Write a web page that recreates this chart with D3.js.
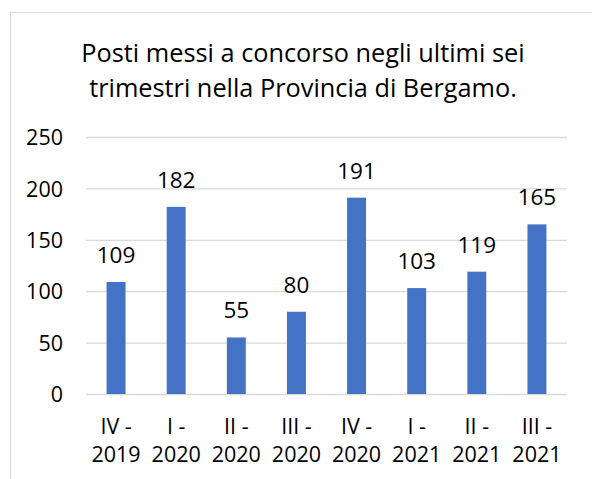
<!DOCTYPE html>
<html>
<head>
<meta charset="utf-8">
<script src="https://cdn.jsdelivr.net/npm/d3@7"></script>
<style>
  body { margin: 0; background: #fff; }
  svg text { font-family: "Open Sans", sans-serif; fill: #000; }
</style>
</head>
<body>
<div id="chart-holder"></div>
<script>
let width = 592;
let height = 479;

// data
let quarters = ["IV", "I", "II", "III", "IV", "I", "II", "III"];
let years = ["2019", "2020", "2020", "2020", "2020", "2021", "2021", "2021"];
let posti = [109, 182, 55, 80, 191, 103, 119, 165];
let yTicks = [0, 50, 100, 150, 200, 250];
let titleLines = ["Posti messi a concorso negli ultimi sei", "trimestri nella Provincia di Bergamo."];

let categories = quarters.map(function(q, i) { return q + " - " + years[i]; });

let plot = { left: 86, right: 567, top: 137, bottom: 394 };

let svg = d3.select("#chart-holder")
  .append("svg")
  .attr("width", width)
  .attr("height", height);

// chart frame (runs off the right and bottom of the picture)
svg.append("rect")
  .attr("x", 10.5)
  .attr("y", 12.5)
  .attr("width", width + 20)
  .attr("height", height + 20)
  .attr("fill", "#fff")
  .attr("stroke", "#d9d9d9")
  .attr("stroke-width", 1);

let x = d3.scaleBand()
  .domain(categories)
  .range([plot.left, plot.right])
  .paddingInner(0.685)
  .paddingOuter(0.3425);

let y = d3.scaleLinear()
  .domain([0, 250])
  .range([plot.bottom, plot.top]);

// title
svg.append("g")
  .attr("class", "title")
  .selectAll("text")
  .data(titleLines)
  .enter().append("text")
    .attr("x", 303)
    .attr("y", function(d, i) { return 62 + i * 35; })
    .attr("text-anchor", "middle")
    .attr("font-size", 25.3)
    .text(function(d) { return d; });

// y axis with gridlines
let yAxis = d3.axisLeft(y)
  .tickValues(yTicks)
  .tickSize(-(plot.right - plot.left))
  .tickPadding(23);

let yg = svg.append("g")
  .attr("class", "y-axis")
  .attr("transform", "translate(" + plot.left + ",0)")
  .call(yAxis);
yg.select(".domain").remove();
yg.selectAll(".tick line")
  .attr("stroke", "#d9d9d9")
  .attr("stroke-width", 1.3);
yg.selectAll(".tick text")
  .attr("font-size", 21.5)
  .attr("font-family", "Open Sans, sans-serif")
  .attr("fill", "#000")
  .attr("dy", "0.36em");

// bars
svg.append("g")
  .attr("class", "bars")
  .selectAll("rect")
  .data(posti)
  .enter().append("rect")
    .attr("x", function(d, i) { return x(categories[i]); })
    .attr("y", function(d) { return y(d); })
    .attr("width", x.bandwidth())
    .attr("height", function(d) { return y(0) - y(d); })
    .attr("fill", "#4472c4");

// value labels
svg.append("g")
  .attr("class", "labels")
  .selectAll("text")
  .data(posti)
  .enter().append("text")
    .attr("x", function(d, i) { return x(categories[i]) + x.bandwidth() / 2; })
    .attr("y", function(d) { return y(d) - 19; })
    .attr("text-anchor", "middle")
    .attr("font-size", 22.5)
    .text(function(d) { return d; });

// category labels, two lines each
let xl = svg.append("g")
  .attr("class", "x-labels")
  .selectAll("text")
  .data(categories)
  .enter().append("text")
    .attr("x", function(d) { return x(d) + x.bandwidth() / 2; })
    .attr("y", 434)
    .attr("text-anchor", "middle")
    .attr("font-size", 21.5);
xl.append("tspan")
  .attr("x", function(d) { return x(d) + x.bandwidth() / 2; })
  .text(function(d, i) { return quarters[i] + " -"; });
xl.append("tspan")
  .attr("x", function(d) { return x(d) + x.bandwidth() / 2; })
  .attr("dy", 28)
  .text(function(d, i) { return years[i]; });
</script>
</body>
</html>
